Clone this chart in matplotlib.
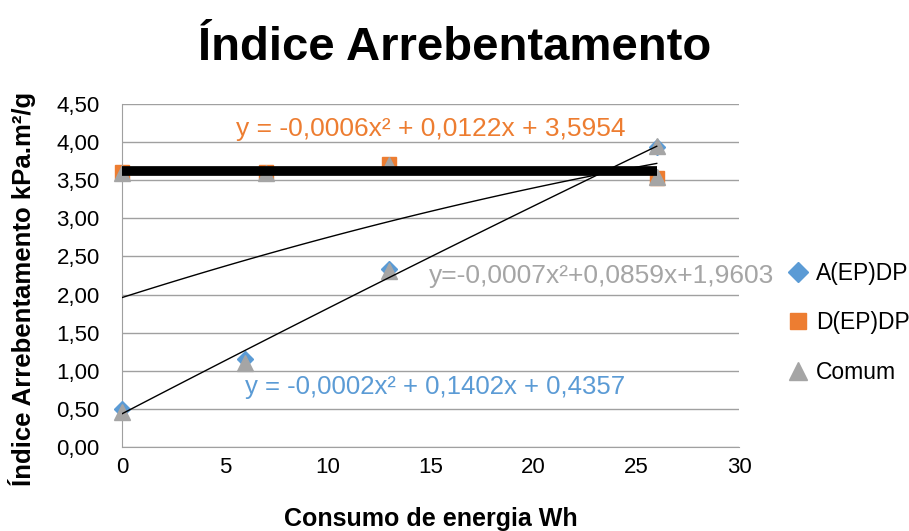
import numpy as np
import matplotlib
matplotlib.use("Agg")
import matplotlib.pyplot as plt

plt.rcParams['font.family'] = ['Liberation Sans', 'DejaVu Sans']

# data
x_a = [0, 6, 13, 26]
y_a = [0.50, 1.15, 2.34, 3.94]
x_d = [0, 7, 13, 26]
y_d = [3.61, 3.61, 3.71, 3.53]
x_c = [0, 6, 13, 26, 0, 7, 13, 26]
y_c = [0.46, 1.10, 2.31, 3.95, 3.60, 3.60, 3.70, 3.54]

# trendline coefficients shown on the chart (a, b, c)
coef_a = [-0.0002, 0.1402, 0.4357]
coef_c = [-0.0007, 0.0859, 1.9603]
eq_d = "y = -0,0006x² + 0,0122x + 3,5954"
eq_c = "y=-0,0007x²+0,0859x+1,9603"
eq_a = "y = -0,0002x² + 0,1402x + 0,4357"

BLUE = '#5B9BD5'
ORANGE = '#ED7D31'
GRAY = '#A5A5A5'

fig = plt.figure(figsize=(9.09, 5.31), dpi=100)
ax = fig.add_axes([122 / 909, 1 - 447 / 531, (739 - 122) / 909, (447 - 104) / 531])

ax.plot(x_a, y_a, 'D', color=BLUE, ms=8.5, ls='none', label='A(EP)DP', zorder=3, clip_on=False)
ax.plot(x_d, y_d, 's', color=ORANGE, ms=10, ls='none', label='D(EP)DP', zorder=3, clip_on=False)
ax.plot(x_c, y_c, '^', color=GRAY, ms=11, ls='none', label='Comum', zorder=4, clip_on=False)

xs = np.linspace(0, 26, 100)
ax.plot(xs, np.polyval(coef_a, xs), color='black', lw=1, zorder=5)
ax.plot(xs, np.polyval(coef_c, xs), color='black', lw=1, zorder=5)
d_level = np.polyfit(x_d, y_d, 0)
ax.plot([0, 26], [d_level[0], d_level[0]], color='black', lw=7, solid_capstyle='butt', zorder=5)

ax.set_xlim(0, 30)
ax.set_ylim(0, 4.5)
ax.set_xticks(np.arange(0, 31, 5))
ax.set_yticks(np.arange(0, 4.51, 0.5))
ax.set_yticklabels([f"{v:.2f}".replace('.', ',') for v in np.arange(0, 4.51, 0.5)])
ax.tick_params(labelsize=16, length=0)
ax.tick_params(axis='y', pad=16)
ax.tick_params(axis='x', pad=7)
ax.yaxis.grid(True, color='#A0A0A0', lw=1)
ax.set_axisbelow(True)
for s in ['top', 'right']:
    ax.spines[s].set_visible(False)
for s in ['left', 'bottom']:
    ax.spines[s].set_color('#A0A0A0')

ax.set_xlabel('Consumo de energia Wh', fontsize=18, fontweight='bold')
ax.set_ylabel('Índice Arrebentamento kPa.m²/g', fontsize=18.5, fontweight='bold')
ax.xaxis.set_label_coords(0.5, -0.175)
ax.yaxis.set_label_coords(-0.14, 0.46)

ax.text(15.0, 4.17, eq_d, color=ORANGE, fontsize=19, ha='center', va='center')
ax.text(23.3, 2.25, eq_c, color=GRAY, fontsize=19, ha='center', va='center')
ax.text(15.2, 0.79, eq_a, color=BLUE, fontsize=18.5, ha='center', va='center')

fig.text(0.5, 0.91, 'Índice Arrebentamento', fontsize=34, fontweight='bold', ha='center', va='center')

fig.legend(handles=ax.get_lines()[:3], loc='center left', bbox_to_anchor=(0.865, 0.392),
           frameon=False, fontsize=16.5, handletextpad=0.3, labelspacing=1.15,
           handlelength=1.0, borderaxespad=0, borderpad=0, markerscale=1.15)

fig.savefig('out.png', dpi=100)
